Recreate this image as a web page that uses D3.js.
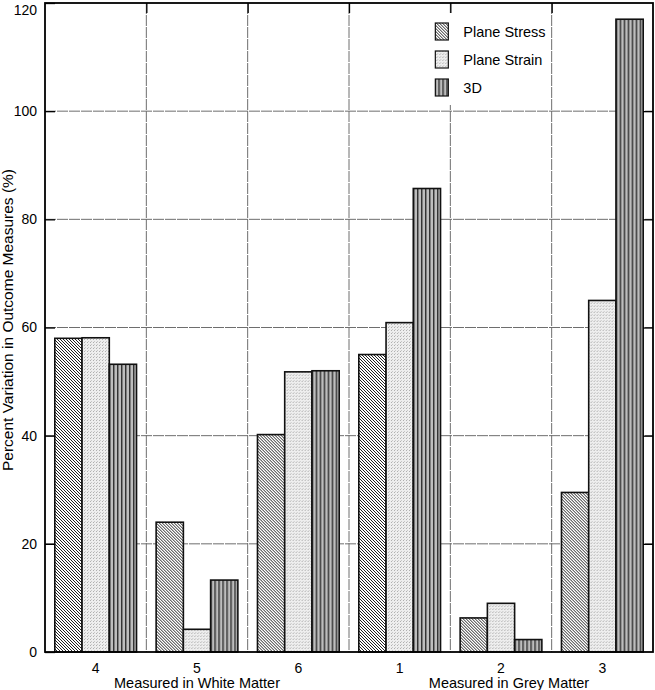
<!DOCTYPE html>
<html>
<head>
<meta charset="utf-8">
<script src="https://cdn.jsdelivr.net/npm/d3@7"></script>
<style>
  body { margin: 0; background: #fff; }
  svg { font-family: "Liberation Sans", Arial, sans-serif; }
</style>
</head>
<body>
<script>
// data
var categories = ["4", "5", "6", "1", "2", "3"];
var seriesNames = ["Plane Stress", "Plane Strain", "3D"];
var planeStress = [58.0, 24.0, 40.2, 55.0, 6.3, 29.5];
var planeStrain = [58.1, 4.2, 51.8, 60.9, 9.0, 65.0];
var threeD = [53.2, 13.3, 52.0, 85.7, 2.3, 117.0];
var yTicks = [0, 20, 40, 60, 80, 100, 120];
var groupLabels = [
  { text: "Measured in White Matter", at: "5", shift: 0 },
  { text: "Measured in Grey Matter", at: "2", shift: 8 }
];

var width = 655, height = 690;
var margin = { left: 45, top: 3, right: 2, bottom: 38 };
var plotw = width - margin.left - margin.right;
var ploth = height - margin.top - margin.bottom;

var svg = d3.select("body").append("svg")
    .attr("width", width).attr("height", height);

// fill patterns for the three series
var defs = svg.append("defs");

var p1 = defs.append("pattern").attr("id", "pat0")
    .attr("patternUnits", "userSpaceOnUse").attr("width", 3).attr("height", 3);
p1.append("rect").attr("width", 3).attr("height", 3).attr("fill", "#fff");
p1.append("path").attr("d", "M0,0L3,3M-1,2L1,4M2,-1L4,1")
    .attr("stroke", "#222").attr("stroke-width", 1);

var p2 = defs.append("pattern").attr("id", "pat1")
    .attr("patternUnits", "userSpaceOnUse").attr("width", 3).attr("height", 3);
p2.append("rect").attr("width", 3).attr("height", 3).attr("fill", "#eeeeee");
p2.append("rect").attr("width", 1).attr("height", 1).attr("fill", "#b0b0b0");
p2.append("rect").attr("x", 1).attr("y", 2).attr("width", 1).attr("height", 1).attr("fill", "#c8c8c8");

var p3 = defs.append("pattern").attr("id", "pat2")
    .attr("patternUnits", "userSpaceOnUse").attr("width", 4).attr("height", 4);
p3.append("rect").attr("width", 4).attr("height", 4).attr("fill", "#bdbdbd");
p3.append("rect").attr("width", 1).attr("height", 4).attr("fill", "#333");
p3.append("rect").attr("x", 1).attr("width", 1).attr("height", 4).attr("fill", "#7d7d7d");

var g = svg.append("g").attr("transform", "translate(" + margin.left + "," + margin.top + ")");

var x0 = d3.scaleBand().domain(categories).range([0, plotw]);
var x1 = d3.scaleBand().domain(seriesNames).range([0, x0.bandwidth()])
    .paddingInner(0).paddingOuter(0.36);
var y = d3.scaleLinear().domain([0, 120]).range([ploth, 0]);

var rows = categories.map(function(c, i) {
  return { cat: c, values: [planeStress[i], planeStrain[i], threeD[i]] };
});

// grid lines
var gridColor = "#6e6e6e";
g.append("g").selectAll("line").data(yTicks.slice(1, -1)).enter().append("line")
    .attr("x1", 0).attr("x2", plotw)
    .attr("y1", function(d) { return y(d); }).attr("y2", function(d) { return y(d); })
    .attr("stroke", gridColor).attr("stroke-width", 1).attr("stroke-dasharray", "11,1");
g.append("g").selectAll("line").data(categories.slice(1)).enter().append("line")
    .attr("x1", function(d) { return x0(d); }).attr("x2", function(d) { return x0(d); })
    .attr("y1", 0).attr("y2", ploth)
    .attr("stroke", gridColor).attr("stroke-width", 1).attr("stroke-dasharray", "11,1");

// bars
var groups = g.selectAll(".grp").data(rows).enter().append("g")
    .attr("class", "grp")
    .attr("transform", function(d) { return "translate(" + x0(d.cat) + ",0)"; });

groups.selectAll("rect").data(function(d) { return d.values; }).enter().append("rect")
    .attr("x", function(d, i) { return x1(seriesNames[i]); })
    .attr("width", x1.bandwidth())
    .attr("y", function(d) { return y(d); })
    .attr("height", function(d) { return ploth - y(d); })
    .attr("fill", function(d, i) { return "url(#pat" + i + ")"; })
    .attr("stroke", "#111").attr("stroke-width", 1.6);

// inward ticks on all sides
var yaxis = d3.axisLeft(y).tickValues(yTicks).tickSizeInner(-10).tickSizeOuter(0).tickPadding(8);
var ya = g.append("g").call(yaxis);
ya.select(".domain").remove();
ya.selectAll("line").attr("stroke", "#000").attr("stroke-width", 1.3);
ya.selectAll("text").attr("font-size", 14).attr("fill", "#000")
    .attr("dy", function(d) { return d === 120 ? "0.8em" : "0.32em"; });

g.append("g").attr("transform", "translate(" + plotw + ",0)")
  .call(d3.axisRight(y).tickValues(yTicks.slice(1, -1)).tickSizeInner(-10).tickSizeOuter(0).tickFormat(""))
  .call(function(s) { s.select(".domain").remove(); s.selectAll("line").attr("stroke", "#000").attr("stroke-width", 1.3); });

var boundaries = d3.scaleLinear().domain([0, categories.length]).range([0, plotw]);
g.append("g").call(d3.axisTop(boundaries).tickValues(d3.range(1, categories.length)).tickSizeInner(-10).tickSizeOuter(0).tickFormat(""))
  .call(function(s) { s.select(".domain").remove(); s.selectAll("line").attr("stroke", "#000").attr("stroke-width", 1.3); });

var xaxis = d3.axisBottom(x0).tickSize(0).tickPadding(11);
var xa = g.append("g").attr("transform", "translate(0," + ploth + ")").call(xaxis);
xa.select(".domain").remove();
xa.selectAll("text").attr("font-size", 14).attr("fill", "#000");

// frame
g.append("rect").attr("width", plotw).attr("height", ploth)
    .attr("fill", "none").attr("stroke", "#000").attr("stroke-width", 1.8);

// group labels
g.selectAll(".glabel").data(groupLabels).enter().append("text")
    .attr("x", function(d) { return x0(d.at) + x0.bandwidth() / 2 + d.shift; })
    .attr("y", ploth + 36)
    .attr("text-anchor", "middle").attr("font-size", 14.5)
    .text(function(d) { return d.text; });

// y label
svg.append("text")
    .attr("transform", "translate(13,320) rotate(-90)")
    .attr("text-anchor", "middle").attr("font-size", 15.5)
    .text("Percent Variation in Outcome Measures (%)");

// legend
var legend = g.append("g").attr("transform", "translate(" + (x0("2") - 20) + ",10)");
legend.append("rect").attr("width", 118).attr("height", 92).attr("fill", "#fff");
var items = legend.selectAll(".li").data(seriesNames).enter().append("g")
    .attr("transform", function(d, i) { return "translate(0," + (10 + i * 28) + ")"; });
items.append("rect").attr("x", 5).attr("width", 13).attr("height", 17)
    .attr("fill", function(d, i) { return "url(#pat" + i + ")"; })
    .attr("stroke", "#111").attr("stroke-width", 1.2);
items.append("text").attr("x", 33).attr("y", 14).attr("font-size", 14.5).text(function(d) { return d; });
</script>
</body>
</html>
